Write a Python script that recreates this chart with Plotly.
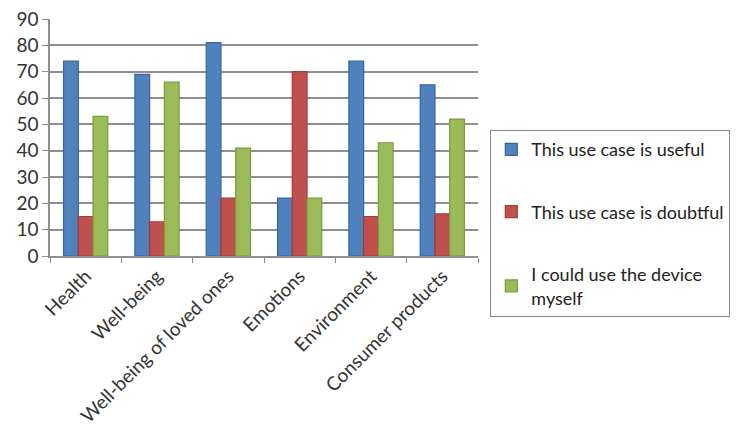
import plotly.graph_objects as go

categories = ["Health", "Well-being", "Well-being of loved ones", "Emotions",
              "Environment", "Consumer products"]
useful = [74, 69, 81, 22, 74, 65]
doubtful = [15, 13, 22, 70, 15, 16]
use_myself = [53, 66, 41, 22, 43, 52]

series_names = ["This use case is useful", "This use case is doubtful",
                "I could use the device<br>myself"]
fills = ["#4f81bd", "#c0504d", "#9bbb59"]
edges = ["#3565a5", "#a63c39", "#7d9c3e"]

FONT = "Lato"
TEXT = "#333333"

fig = go.Figure()
for i, (name, vals) in enumerate(zip(series_names, [useful, doubtful, use_myself])):
    fig.add_trace(go.Bar(
        x=categories, y=vals, name=name, legendgroup=f"g{i}",
        marker=dict(color=fills[i], line=dict(color=edges[i], width=1.2)),
    ))

fig.update_layout(
    width=737, height=433,
    margin=dict(l=50, r=259, t=19, b=177, autoexpand=False),
    paper_bgcolor="white", plot_bgcolor="white",
    barmode="group", bargap=0.38, bargroupgap=0,
    font=dict(family=FONT, color=TEXT),
    legend=dict(
        xref="container", yref="container",
        x=0.665, xanchor="left", y=0.70, yanchor="top",
        bordercolor="#8a8a8a", borderwidth=1.2,
        font=dict(family=FONT, size=18, color="#222"),
        tracegroupgap=36, itemwidth=30,
        traceorder="grouped",
    ),
    showlegend=True,
)
fig.update_yaxes(
    range=[0, 90], dtick=10, showgrid=True, gridcolor="#8e8e8e", gridwidth=1.6,
    showline=True, linecolor="#8e8e8e", linewidth=1.5,
    ticks="outside", ticklen=6, tickcolor="#8e8e8e",
    tickfont=dict(size=19, color=TEXT), zeroline=False, automargin=False,
)
fig.update_xaxes(
    tickangle=-45, tickson="boundaries", ticks="outside", ticklen=5,
    tickcolor="#8e8e8e", showline=True, linecolor="#8e8e8e", linewidth=1.5,
    tickfont=dict(size=19, color=TEXT), automargin=False,
)

fig.write_html("out.html")
